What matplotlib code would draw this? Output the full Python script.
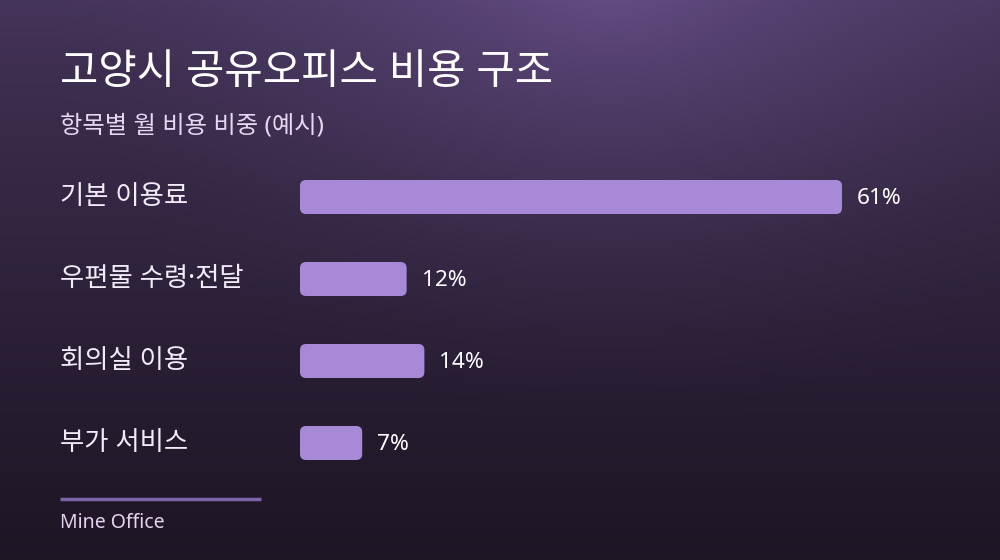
import numpy as np
import matplotlib
matplotlib.use("Agg")
import matplotlib.pyplot as plt
from matplotlib.patches import FancyBboxPatch

# ---- data ----
title = "고양시 공유오피스 비용 구조"
subtitle = "항목별 월 비용 비중 (예시)"
categories = ["기본 이용료", "우편물 수령·전달", "회의실 이용", "부가 서비스"]
values = [61, 12, 14, 7]
value_labels = ["61%", "12%", "14%", "7%"]
footer = "Mine Office"

KR = ["Noto Sans", "Noto Sans CJK KR", "DejaVu Sans"]
LAT = ["Noto Sans", "Noto Sans CJK KR", "DejaVu Sans"]

W, H = 1000, 560
fig = plt.figure(figsize=(W / 100, H / 100), dpi=100)

# ---- background gradient ----
bg = fig.add_axes([0, 0, 1, 1])
bg.set_axis_off()
yy, xx = np.mgrid[0:H, 0:W].astype(float)
top = np.array([0x45, 0x35, 0x5b]) / 255
bot = np.array([0x1d, 0x15, 0x24]) / 255
t = (yy / H) ** 0.8
base = top[None, None, :] * (1 - t[..., None]) + bot[None, None, :] * t[..., None]
glow_col = np.array([0x1e, 0x17, 0x28]) / 255
d = np.sqrt(((xx - 610) / 560) ** 2 + ((yy + 10) / 440) ** 2)
g = np.clip(1 - d, 0, 1) ** 1.5
img = np.clip(base + g[..., None] * glow_col[None, None, :], 0, 1)
bg.imshow(img, extent=[0, W, H, 0], aspect="auto", interpolation="bilinear")
bg.set_xlim(0, W)
bg.set_ylim(H, 0)

# ---- texts ----
fig.text(60 / W, 1 - 73 / H, title, family=KR, fontsize=30, color="white",
         va="center", ha="left")
fig.text(60 / W, 1 - 126 / H, subtitle, family=KR, fontsize=17.5, color="#e6d8f2",
         va="center", ha="left")

# ---- bar axes ----
px_per_unit = 542 / 61
ax_left, ax_w = 300, 600
ax_top, ax_h = 156, 328
ax = fig.add_axes([ax_left / W, 1 - (ax_top + ax_h) / H, ax_w / W, ax_h / H])
ax.set_axis_off()
ax.set_xlim(0, ax_w / px_per_unit)
ax.set_ylim(len(categories) - 0.5, -0.5)
ax.patch.set_alpha(0)

bar_h = 34 / 82
ypos = np.arange(len(categories))
bars = ax.barh(ypos, values, height=bar_h, color="#a889d8")
aspect = (1 / 82) / (1 / px_per_unit)
for rect in bars:
    x0, y0 = rect.get_x(), rect.get_y()
    w, h = rect.get_width(), rect.get_height()
    rect.set_visible(False)
    p = FancyBboxPatch((x0, y0), w, h,
                       boxstyle=f"round,pad=0,rounding_size={6 / px_per_unit}",
                       mutation_aspect=aspect, facecolor="#a889d8",
                       edgecolor="none")
    ax.add_patch(p)

for yi, v, lab in zip(ypos, values, value_labels):
    ax.text(v + 15 / px_per_unit, yi + 2 / 82, lab, family=LAT, fontsize=16.3,
            color="white", va="center", ha="left")

for yi, cat in zip(ypos, categories):
    fig.text(60 / W, 1 - (197 + 82 * yi) / H, cat, family=KR, fontsize=19,
             color="#f2ecf8", va="center", ha="left")

# ---- footer ----
bg.plot([60, 261], [499, 499], color="#7e64a8", lw=2.5, solid_capstyle="butt")
fig.text(60 / W, 1 - 523 / H, footer, family=LAT, fontsize=14, color="#e3d3f0",
         va="center", ha="left")

fig.savefig("out.png", dpi=100)
